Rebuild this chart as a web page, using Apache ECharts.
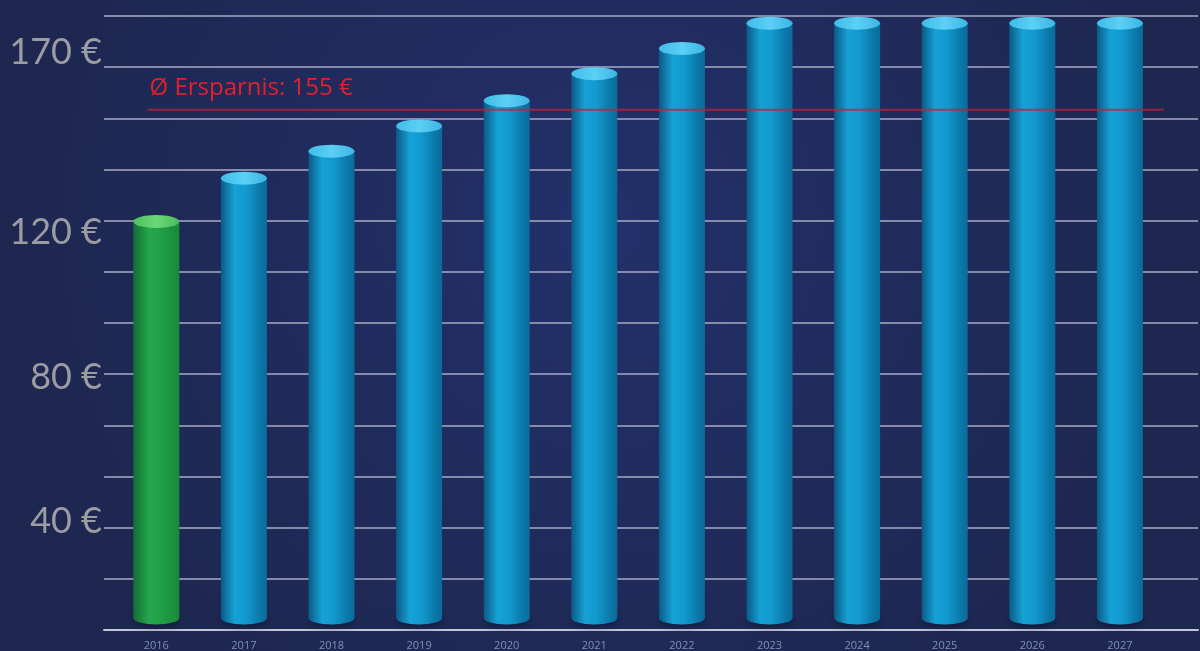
<!DOCTYPE html>
<html>
<head>
<meta charset="utf-8">
<script src="https://cdn.jsdelivr.net/npm/echarts@6/dist/echarts.min.js"></script>
<style>
html,body{margin:0;padding:0;background:#1f2a56;}
#chart{width:1200px;height:651px;}
</style>
</head>
<body>
<div id="chart"></div>
<script>
// ---- data ----
const years = ['2016','2017','2018','2019','2020','2021','2022','2023','2024','2025','2026','2027'];
const savings = [123, 135, 142.5, 149.5, 156.5, 164, 171, 178, 178, 178, 178, 178];
const highlightIndex = 0;               // first year drawn in green
const averageValue = 155;
const averageLabel = 'Ø Ersparnis: 155 €';
const averageSpan = [-0.1, 11.5];       // in category units
const yTickLabels = [40, 80, 120, 170];
const barBase = 13;                     // value where the cylinders stand

// ---- styles ----
function grad(stops){
  return new echarts.graphic.LinearGradient(0,0,1,0, stops.map(s=>({offset:s[0],color:s[1]})));
}
const blueBody = grad([[0,'#0b5a86'],[0.3,'#16a2d6'],[0.55,'#1299cf'],[0.85,'#0b78a8'],[1,'#0b6a9a']]);
const blueTop  = grad([[0,'#3fbde9'],[0.5,'#5ccff5'],[1,'#3cb6e4']]);
const greenBody = grad([[0,'#156d36'],[0.35,'#25a74b'],[0.6,'#229f47'],[1,'#168a3b']]);
const greenTop  = grad([[0,'#4fc05e'],[0.5,'#6ad878'],[1,'#4dbb5b']]);

const bodyData = savings.map((v,i)=>({value:v, itemStyle:{color: i===highlightIndex ? greenBody : blueBody}}));
const topData  = savings.map((v,i)=>({value:v, itemStyle:{color: i===highlightIndex ? greenTop : blueTop}}));
const baseData = savings.map((v,i)=>({value:barBase, itemStyle:{color: i===highlightIndex ? greenBody : blueBody}}));

const chart = echarts.init(document.getElementById('chart'));
const BW = 46;
chart.setOption({
  backgroundColor: new echarts.graphic.RadialGradient(0.5,0.35,0.9,[
    {offset:0,color:'#23306a'},{offset:1,color:'#1d2750'}]),
  animation:false,
  grid:[
    {left:104, right:2, top:16, bottom:21},
    {left:112.5, right:36.3, top:16, bottom:32}
  ],
  xAxis:[
    {gridIndex:0, type:'value', min:0, max:1, axisLabel:{show:false}, axisTick:{show:false},
     splitLine:{show:false}, axisLine:{show:true, lineStyle:{color:'#c3c6da', width:2}}},
    {gridIndex:1, type:'category', data:years, axisLine:{show:false}, axisTick:{show:false},
     axisLabel:{margin:22, color:'#8190b4', fontSize:11, fontFamily:'Open Sans'}},
    {gridIndex:1, type:'value', min:-0.5, max:11.5, show:false}
  ],
  yAxis:[
    {gridIndex:0, type:'value', min:0, max:12, interval:1, axisLabel:{show:false},
     axisLine:{show:false}, axisTick:{show:false},
     splitLine:{show:true, lineStyle:{color:'#a9abc6', width:1.5}}},
    {gridIndex:0, type:'value', min:10, max:180, interval:10, position:'left',
     axisLine:{show:false}, axisTick:{show:false}, splitLine:{show:false},
     axisLabel:{margin:2, color:'#9c9ca4', fontSize:36, fontFamily:'Lato',
       formatter:v=> yTickLabels.includes(v) ? v+' €' : ''}},
    {gridIndex:1, type:'value', min:barBase, max:180, show:false}
  ],
  series:[
    {type:'bar', xAxisIndex:1, yAxisIndex:2, barWidth:BW, data:bodyData, z:2},
    {type:'pictorialBar', xAxisIndex:1, yAxisIndex:2, symbol:'circle', symbolSize:[BW,13], clip:false,
     symbolPosition:'end', symbolOffset:[0,'-50%'], data:baseData, z:1,
     itemStyle:{shadowColor:'rgba(5,10,30,0.55)', shadowBlur:8, shadowOffsetY:2}},
    {type:'pictorialBar', xAxisIndex:1, yAxisIndex:2, symbol:'circle', symbolSize:[BW,13], clip:false,
     symbolPosition:'end', symbolOffset:[0,'-50%'], data:topData, z:3},
    {type:'line', xAxisIndex:2, yAxisIndex:2, z:4,
     symbol:'circle', symbolSize:0.1, itemStyle:{color:'rgba(0,0,0,0)'},
     lineStyle:{color:'#c41f3a', width:2, opacity:0.75},
     data:[
       {value:[averageSpan[0], averageValue-1],
        label:{show:true, formatter:averageLabel, position:[2,-34], color:'#e3202c',
               fontSize:24, fontFamily:'Open Sans'}},
       {value:[averageSpan[1], averageValue-1]}
     ]}
  ]
});
</script>
</body>
</html>
